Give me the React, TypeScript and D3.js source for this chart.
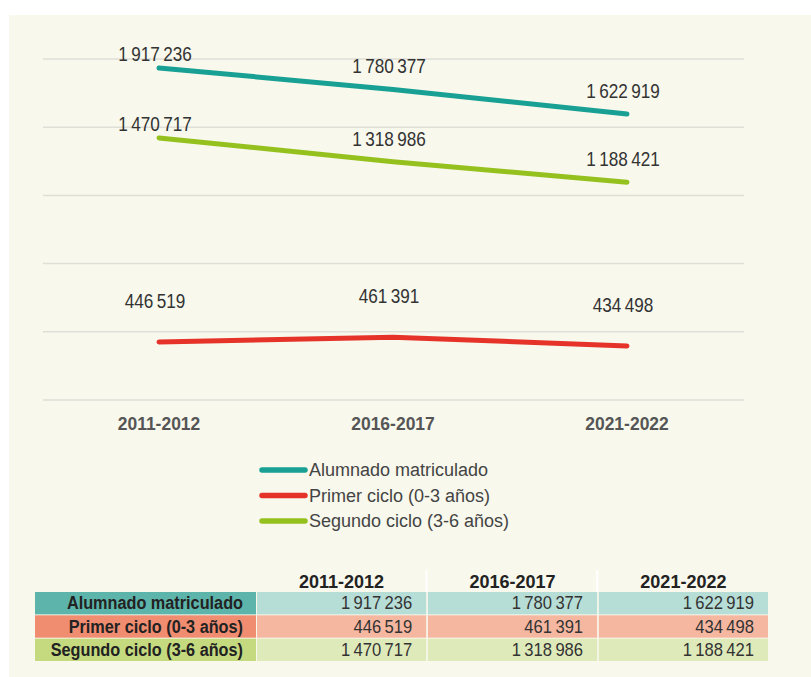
import React, { useEffect, useRef } from 'react';
import * as d3 from 'd3';

// chart data
const categories = ['2011-2012', '2016-2017', '2021-2022'];
const seriesNames = ['Alumnado matriculado', 'Primer ciclo (0-3 años)', 'Segundo ciclo (3-6 años)'];
const alumnado = [1917236, 1780377, 1622919];
const primerCiclo = [446519, 461391, 434498];
const segundoCiclo = [1470717, 1318986, 1188421];

const lineColors = ['#17a093', '#e5332a', '#95c11f'];
const headColors = ['#5db4aa', '#f08c70', '#c5da7f'];
const cellColors = ['#b7ddd7', '#f6b7a1', '#dfeabb'];

const FONT = "'Liberation Sans', Arial, sans-serif";

export default function App() {
  const ref = useRef<SVGSVGElement>(null);

  useEffect(() => {
    document.body.style.margin = '0';
    const svg = d3.select(ref.current);
    svg.selectAll('*').remove();

    const series = [alumnado, primerCiclo, segundoCiclo];
    const fmt = d3.formatLocale({ decimal: ',', thousands: '\u2009', grouping: [3], currency: ['', ''] }).format(',d');

    // background panel
    svg.append('rect').attr('x', 9).attr('y', 15).attr('width', 802).attr('height', 662).attr('fill', '#f8f8ec');

    // x scale
    var x = d3.scalePoint().domain(categories).range([159, 627]);

    // y scale (the original has a broken axis, so polylinear)
    var y = d3.scaleLinear().domain([380000, 480000, 1100000, 2000000]).range([364, 331, 196, 55]);

    // grid lines, evenly spaced, no labels
    var grid = d3.scaleLinear().domain([0, 5]).range([400, 59]);
    svg
      .selectAll('line.grid')
      .data(d3.range(6))
      .enter()
      .append('line')
      .attr('class', 'grid')
      .attr('x1', 43)
      .attr('x2', 744)
      .attr('y1', (d) => grid(d))
      .attr('y2', (d) => grid(d))
      .attr('stroke', '#dfdfd8')
      .attr('stroke-width', 1.5);

    // x labels
    svg
      .selectAll('text.xlab')
      .data(categories)
      .enter()
      .append('text')
      .attr('transform', (d) => 'translate(' + (x(d) as number) + ',430) scale(0.92,1)')
      .attr('text-anchor', 'middle')
      .attr('font-family', FONT)
      .attr('font-weight', 'bold')
      .attr('font-size', 19)
      .attr('fill', '#555')
      .text((d) => d);

    var line = d3
      .line<number>()
      .x((d, i) => x(categories[i]) as number)
      .y((d) => y(d));

    series.forEach((vals, s) => {
      svg
        .append('path')
        .attr('d', line(vals))
        .attr('fill', 'none')
        .attr('stroke', lineColors[s])
        .attr('stroke-width', 5)
        .attr('stroke-linecap', 'round')
        .attr('stroke-linejoin', 'round');

      svg
        .selectAll('text.val' + s)
        .data(vals)
        .enter()
        .append('text')
        .attr('transform', (d, i) => {
          var ty = y(d) - (s === 1 ? 34 : i === 0 ? 7 : 16);
          return 'translate(' + ((x(categories[i]) as number) - 4) + ',' + ty + ') scale(0.88,1)';
        })
        .attr('text-anchor', 'middle')
        .attr('font-family', FONT)
        .attr('font-size', 19.5)
        .attr('fill', '#333')
        .text((d) => fmt(d));
    });

    // legend
    var legend = svg
      .selectAll('g.legend')
      .data(seriesNames)
      .enter()
      .append('g')
      .attr('transform', (d, i) => 'translate(0,' + (470 + i * 25.5) + ')');
    legend
      .append('line')
      .attr('x1', 262)
      .attr('x2', 305)
      .attr('stroke', (d, i) => lineColors[i])
      .attr('stroke-width', 5.5)
      .attr('stroke-linecap', 'round');
    legend
      .append('text')
      .attr('x', 309)
      .attr('y', 6)
      .attr('font-family', FONT)
      .attr('font-size', 18)
      .attr('fill', '#444')
      .text((d) => d);

    // data table
    var cols = d3.scaleBand().domain(categories).range([257, 768]).paddingInner(0.01);
    var rows = d3.scaleBand().domain(seriesNames).range([592, 661]).paddingInner(0.04);

    svg
      .selectAll('text.head')
      .data(categories)
      .enter()
      .append('text')
      .attr('x', (d) => (cols(d) as number) + cols.bandwidth() / 2)
      .attr('y', 588)
      .attr('text-anchor', 'middle')
      .attr('font-family', FONT)
      .attr('font-weight', 'bold')
      .attr('font-size', 18)
      .attr('fill', '#222')
      .text((d) => d);

    // white separators between header cells
    svg
      .selectAll('line.sep')
      .data(categories.slice(1))
      .enter()
      .append('line')
      .attr('x1', (d) => (cols(d) as number) - 1.5)
      .attr('x2', (d) => (cols(d) as number) - 1.5)
      .attr('y1', 570)
      .attr('y2', 592)
      .attr('stroke', '#fff')
      .attr('stroke-width', 2);

    seriesNames.forEach((name, r) => {
      var ry = rows(name) as number;
      svg
        .append('rect')
        .attr('x', 35)
        .attr('y', ry)
        .attr('width', 221)
        .attr('height', rows.bandwidth())
        .attr('fill', headColors[r]);
      svg
        .append('text')
        .attr('transform', 'translate(243,' + (ry + rows.bandwidth() / 2 + 6) + ') scale(0.93,1)')
        .attr('text-anchor', 'end')
        .attr('font-family', FONT)
        .attr('font-weight', 'bold')
        .attr('font-size', 17.5)
        .attr('fill', '#222')
        .text(name);

      categories.forEach((c, k) => {
        svg
          .append('rect')
          .attr('x', cols(c) as number)
          .attr('y', ry)
          .attr('width', cols.bandwidth())
          .attr('height', rows.bandwidth())
          .attr('fill', cellColors[r]);
        svg
          .append('text')
          .attr('transform', 'translate(' + ((cols(c) as number) + cols.bandwidth() - 14) + ',' + (ry + rows.bandwidth() / 2 + 6) + ') scale(0.95,1)')
          .attr('text-anchor', 'end')
          .attr('font-family', FONT)
          .attr('font-size', 17.5)
          .attr('fill', '#333')
          .text(fmt(series[r][k]));
      });
    });
  }, []);

  return <svg ref={ref} width={811} height={677} style={{ display: 'block' }}></svg>;
}
